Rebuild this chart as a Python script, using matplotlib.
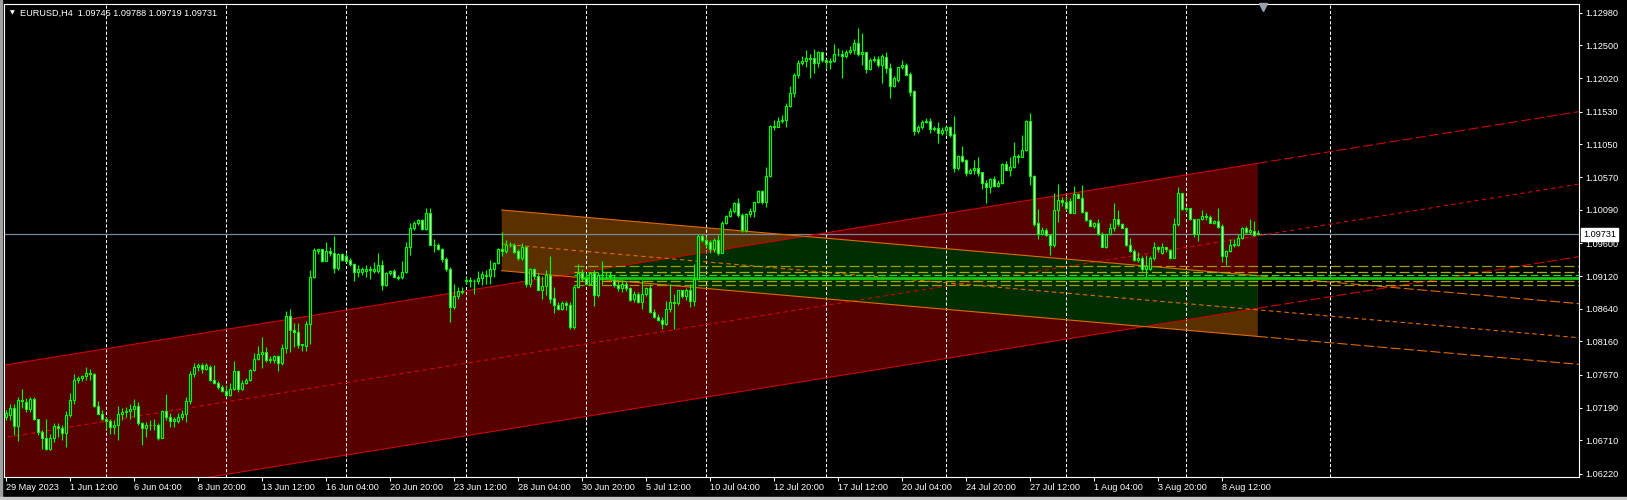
import numpy as np
import pandas as pd
import matplotlib
matplotlib.use("Agg")
import matplotlib.pyplot as plt
import matplotlib.transforms as mtransforms
from matplotlib.patches import Polygon, Rectangle
from matplotlib.collections import LineCollection

plt.rcParams['font.family'] = ['Liberation Sans', 'DejaVu Sans']

symbol = "EURUSD,H4"
first_bar = "2023-05-29 20:00"

# H4 candles
opens = [
    1.0706, 1.0708, 1.0719, 1.0692, 1.0730, 1.0727, 1.0717, 1.0731, 1.0702, 1.0683,
    1.0675, 1.0658, 1.0674, 1.0692, 1.0689, 1.0682, 1.0708, 1.0730, 1.0760, 1.0763,
    1.0765, 1.0770, 1.0769, 1.0722, 1.0710, 1.0703, 1.0700, 1.0691, 1.0693, 1.0709,
    1.0713, 1.0714, 1.0717, 1.0722, 1.0696, 1.0689, 1.0694, 1.0693, 1.0694, 1.0675,
    1.0714, 1.0705, 1.0699, 1.0699, 1.0705, 1.0710, 1.0729, 1.0768, 1.0778, 1.0782,
    1.0775, 1.0778, 1.0760, 1.0755, 1.0749, 1.0743, 1.0737, 1.0746, 1.0773, 1.0746,
    1.0755, 1.0759, 1.0774, 1.0791, 1.0798, 1.0801, 1.0789, 1.0789, 1.0794, 1.0784,
    1.0806, 1.0854, 1.0833, 1.0830, 1.0811, 1.0809, 1.0842, 1.0910, 1.0949, 1.0951,
    1.0934, 1.0948, 1.0945, 1.0924, 1.0944, 1.0941, 1.0935, 1.0930, 1.0918, 1.0918,
    1.0920, 1.0922, 1.0920, 1.0920, 1.0928, 1.0899, 1.0916, 1.0919, 1.0911, 1.0910,
    1.0918, 1.0954, 1.0983, 1.0990, 1.0994, 1.0981, 1.1004, 1.0958, 1.0958, 1.0951,
    1.0937, 1.0922, 1.0867, 1.0882, 1.0890, 1.0904, 1.0906, 1.0904, 1.0905, 1.0909,
    1.0912, 1.0912, 1.0922, 1.0931, 1.0951, 1.0948, 1.0958, 1.0957, 1.0948, 1.0938,
    1.0954, 1.0901, 1.0922, 1.0912, 1.0892, 1.0898, 1.0913, 1.0880, 1.0870, 1.0863,
    1.0872, 1.0869, 1.0837, 1.0896, 1.0916, 1.0909, 1.0901, 1.0917, 1.0884, 1.0913,
    1.0914, 1.0913, 1.0906, 1.0899, 1.0894, 1.0900, 1.0894, 1.0878, 1.0885, 1.0874,
    1.0886, 1.0894, 1.0859, 1.0852, 1.0848, 1.0841, 1.0863, 1.0874, 1.0873, 1.0891,
    1.0882, 1.0891, 1.0876, 1.0908, 1.0971, 1.0965, 1.0962, 1.0951, 1.0965, 1.0946,
    1.0989, 1.1000, 1.1007, 1.1019, 1.1001, 1.0979, 1.1003, 1.1008, 1.1020, 1.1036,
    1.1021, 1.1058, 1.1132, 1.1131, 1.1139, 1.1141, 1.1161, 1.1180, 1.1207, 1.1225,
    1.1227, 1.1232, 1.1231, 1.1225, 1.1240, 1.1228, 1.1226, 1.1227, 1.1238, 1.1237,
    1.1234, 1.1240, 1.1244, 1.1254, 1.1237, 1.1240, 1.1215, 1.1229, 1.1230, 1.1222,
    1.1233, 1.1217, 1.1190, 1.1200, 1.1218, 1.1221, 1.1208, 1.1183, 1.1124, 1.1131,
    1.1138, 1.1139, 1.1127, 1.1129, 1.1122, 1.1126, 1.1130, 1.1120, 1.1070, 1.1088,
    1.1082, 1.1063, 1.1067, 1.1070, 1.1064, 1.1048, 1.1042, 1.1054, 1.1044, 1.1049,
    1.1076, 1.1068, 1.1072, 1.1088, 1.1087, 1.1097, 1.1139, 1.1059, 1.0989, 1.0974,
    1.0979, 1.0972, 1.0957, 1.1009, 1.1024, 1.1021, 1.1022, 1.1005, 1.1032, 1.1027,
    1.1006, 1.0994, 1.0986, 1.0990, 1.0974, 1.0955, 1.0973, 1.0983, 1.0995, 1.0988,
    1.0983, 1.0958, 1.0949, 1.0935, 1.0939, 1.0922, 1.0922, 1.0938, 1.0954, 1.0946,
    1.0954, 1.0950, 1.0939, 1.0988, 1.1033, 1.1010, 1.1011, 1.0995, 1.0974, 1.0995,
    1.1000, 1.0999, 1.0990, 1.0992, 1.0985, 1.0941, 1.0949, 1.0957, 1.0958, 1.0968,
    1.0983, 1.0977, 1.0978, 1.09745,
]
highs = [
    1.0715, 1.0725, 1.0725, 1.0735, 1.0746, 1.0733, 1.0735, 1.0735, 1.0703, 1.0686,
    1.0703, 1.0681, 1.0696, 1.0696, 1.0693, 1.0714, 1.0740, 1.0769, 1.0765, 1.0767,
    1.0778, 1.0776, 1.0770, 1.0729, 1.0715, 1.0706, 1.0703, 1.0701, 1.0721, 1.0718,
    1.0720, 1.0725, 1.0731, 1.0727, 1.0698, 1.0698, 1.0701, 1.0703, 1.0696, 1.0715,
    1.0739, 1.0711, 1.0706, 1.0711, 1.0715, 1.0734, 1.0772, 1.0785, 1.0784, 1.0784,
    1.0784, 1.0781, 1.0782, 1.0758, 1.0752, 1.0752, 1.0755, 1.0788, 1.0774, 1.0759,
    1.0762, 1.0776, 1.0799, 1.0810, 1.0822, 1.0808, 1.0795, 1.0796, 1.0796, 1.0813,
    1.0860, 1.0864, 1.0843, 1.0843, 1.0813, 1.0846, 1.0921, 1.0953, 1.0951, 1.0952,
    1.0962, 1.0955, 1.0971, 1.0945, 1.0945, 1.0945, 1.0938, 1.0931, 1.0928, 1.0925,
    1.0928, 1.0926, 1.0933, 1.0945, 1.0935, 1.0918, 1.0921, 1.0922, 1.0913, 1.0934,
    1.0962, 1.0990, 1.0993, 1.0995, 1.0995, 1.1011, 1.1011, 1.0966, 1.0960, 1.0953,
    1.0940, 1.0925, 1.0901, 1.0896, 1.0896, 1.0910, 1.0910, 1.0907, 1.0920, 1.0920,
    1.0921, 1.0935, 1.0933, 1.0953, 1.0976, 1.0965, 1.0962, 1.0960, 1.0951, 1.0961,
    1.0955, 1.0923, 1.0923, 1.0916, 1.0912, 1.0921, 1.0941, 1.0896, 1.0874, 1.0875,
    1.0876, 1.0874, 1.0899, 1.0930, 1.0922, 1.0916, 1.0918, 1.0921, 1.0918, 1.0934,
    1.0918, 1.0918, 1.0913, 1.0906, 1.0906, 1.0905, 1.0896, 1.0890, 1.0889, 1.0906,
    1.0896, 1.0901, 1.0864, 1.0857, 1.0852, 1.0875, 1.0900, 1.0886, 1.0892, 1.0892,
    1.0895, 1.0901, 1.0930, 1.0973, 1.0973, 1.0970, 1.0965, 1.0967, 1.0972, 1.0993,
    1.1001, 1.1011, 1.1020, 1.1026, 1.1005, 1.1004, 1.1011, 1.1021, 1.1038, 1.1038,
    1.1072, 1.1133, 1.1141, 1.1145, 1.1148, 1.1165, 1.1190, 1.1209, 1.1229, 1.1234,
    1.1243, 1.1238, 1.1245, 1.1242, 1.1241, 1.1230, 1.1231, 1.1252, 1.1247, 1.1243,
    1.1243, 1.1249, 1.1259, 1.1275, 1.1269, 1.1241, 1.1232, 1.1234, 1.1234, 1.1237,
    1.1240, 1.1225, 1.1205, 1.1219, 1.1228, 1.1224, 1.1211, 1.1185, 1.1133, 1.1141,
    1.1143, 1.1143, 1.1132, 1.1138, 1.1131, 1.1132, 1.1132, 1.1147, 1.1089, 1.1103,
    1.1083, 1.1070, 1.1082, 1.1086, 1.1065, 1.1053, 1.1055, 1.1058, 1.1053, 1.1077,
    1.1080, 1.1087, 1.1109, 1.1091, 1.1118, 1.1141, 1.1151, 1.1060, 1.1010, 1.0984,
    1.0982, 1.0974, 1.1033, 1.1047, 1.1028, 1.1030, 1.1026, 1.1044, 1.1034, 1.1045,
    1.1008, 1.0995, 1.0991, 1.0995, 1.0976, 1.0974, 1.0989, 1.1019, 1.1009, 1.0990,
    1.0984, 1.0967, 1.0951, 1.0947, 1.0941, 1.0943, 1.0941, 1.0962, 1.0956, 1.0960,
    1.0955, 1.0951, 1.0997, 1.1042, 1.1034, 1.1013, 1.1011, 1.0996, 1.0996, 1.1009,
    1.1004, 1.1001, 1.0994, 1.1011, 1.0988, 1.0950, 1.0966, 1.0966, 1.0974, 1.0984,
    1.0986, 1.0995, 1.0992, 1.09788,
]
lows = [
    1.0701, 1.0701, 1.0679, 1.0670, 1.0718, 1.0713, 1.0713, 1.0701, 1.0679, 1.0658,
    1.0657, 1.0657, 1.0669, 1.0676, 1.0671, 1.0661, 1.0706, 1.0725, 1.0755, 1.0758,
    1.0760, 1.0759, 1.0720, 1.0709, 1.0701, 1.0688, 1.0680, 1.0680, 1.0672, 1.0701,
    1.0706, 1.0703, 1.0706, 1.0694, 1.0664, 1.0676, 1.0686, 1.0686, 1.0671, 1.0674,
    1.0701, 1.0690, 1.0691, 1.0696, 1.0701, 1.0698, 1.0725, 1.0764, 1.0772, 1.0770,
    1.0774, 1.0758, 1.0753, 1.0747, 1.0742, 1.0735, 1.0736, 1.0745, 1.0742, 1.0745,
    1.0753, 1.0758, 1.0772, 1.0789, 1.0777, 1.0786, 1.0784, 1.0784, 1.0772, 1.0782,
    1.0799, 1.0800, 1.0808, 1.0806, 1.0802, 1.0802, 1.0813, 1.0909, 1.0944, 1.0933,
    1.0934, 1.0941, 1.0917, 1.0921, 1.0934, 1.0933, 1.0926, 1.0905, 1.0910, 1.0913,
    1.0910, 1.0908, 1.0916, 1.0916, 1.0891, 1.0898, 1.0914, 1.0910, 1.0906, 1.0908,
    1.0916, 1.0943, 1.0979, 1.0987, 1.0979, 1.0980, 1.0957, 1.0947, 1.0950, 1.0933,
    1.0920, 1.0844, 1.0864, 1.0879, 1.0886, 1.0901, 1.0896, 1.0886, 1.0901, 1.0899,
    1.0900, 1.0901, 1.0911, 1.0930, 1.0941, 1.0945, 1.0954, 1.0945, 1.0935, 1.0936,
    1.0896, 1.0896, 1.0908, 1.0891, 1.0879, 1.0884, 1.0872, 1.0858, 1.0862, 1.0862,
    1.0862, 1.0835, 1.0835, 1.0894, 1.0904, 1.0899, 1.0899, 1.0868, 1.0881, 1.0901,
    1.0908, 1.0908, 1.0896, 1.0890, 1.0889, 1.0890, 1.0876, 1.0874, 1.0873, 1.0864,
    1.0882, 1.0858, 1.0851, 1.0846, 1.0834, 1.0840, 1.0859, 1.0834, 1.0870, 1.0880,
    1.0877, 1.0866, 1.0868, 1.0906, 1.0962, 1.0955, 1.0945, 1.0947, 1.0943, 1.0945,
    1.0988, 1.0998, 1.1004, 1.0999, 1.0977, 1.0977, 1.0999, 1.0999, 1.1019, 1.1018,
    1.1013, 1.1057, 1.1126, 1.1130, 1.1136, 1.1130, 1.1160, 1.1175, 1.1203, 1.1221,
    1.1219, 1.1202, 1.1210, 1.1219, 1.1226, 1.1216, 1.1215, 1.1226, 1.1234, 1.1203,
    1.1231, 1.1238, 1.1238, 1.1235, 1.1221, 1.1209, 1.1214, 1.1226, 1.1219, 1.1195,
    1.1209, 1.1173, 1.1189, 1.1197, 1.1216, 1.1206, 1.1176, 1.1118, 1.1121, 1.1128,
    1.1136, 1.1121, 1.1125, 1.1107, 1.1119, 1.1119, 1.1116, 1.1065, 1.1067, 1.1079,
    1.1058, 1.1062, 1.1062, 1.1058, 1.1040, 1.1019, 1.1034, 1.1043, 1.1043, 1.1047,
    1.1067, 1.1058, 1.1071, 1.1077, 1.1086, 1.1096, 1.1045, 1.0986, 1.0966, 1.0972,
    1.0970, 1.0943, 1.0955, 1.0991, 1.1014, 1.1009, 1.1004, 1.1004, 1.1026, 1.1005,
    1.0993, 1.0985, 1.0982, 1.0972, 1.0954, 1.0953, 1.0972, 1.0978, 1.0986, 1.0982,
    1.0956, 1.0947, 1.0934, 1.0933, 1.0920, 1.0910, 1.0921, 1.0935, 1.0947, 1.0944,
    1.0947, 1.0937, 1.0938, 1.0986, 1.1009, 1.1006, 1.0994, 1.0969, 1.0963, 1.0994,
    1.0994, 1.0989, 1.0988, 1.0982, 1.0932, 1.0928, 1.0947, 1.0954, 1.0956, 1.0966,
    1.0974, 1.0974, 1.0971, 1.09719,
]
closes = [
    1.0711, 1.0719, 1.0692, 1.0730, 1.0728, 1.0717, 1.0731, 1.0702, 1.0683, 1.0675,
    1.0658, 1.0674, 1.0692, 1.0689, 1.0682, 1.0708, 1.0730, 1.0760, 1.0763, 1.0765,
    1.0770, 1.0769, 1.0722, 1.0710, 1.0703, 1.0700, 1.0691, 1.0693, 1.0709, 1.0713,
    1.0714, 1.0717, 1.0722, 1.0696, 1.0689, 1.0694, 1.0693, 1.0694, 1.0675, 1.0714,
    1.0705, 1.0700, 1.0702, 1.0705, 1.0710, 1.0729, 1.0768, 1.0778, 1.0782, 1.0775,
    1.0782, 1.0760, 1.0755, 1.0749, 1.0743, 1.0737, 1.0747, 1.0773, 1.0746, 1.0755,
    1.0759, 1.0774, 1.0791, 1.0798, 1.0801, 1.0789, 1.0790, 1.0794, 1.0784, 1.0806,
    1.0854, 1.0833, 1.0830, 1.0811, 1.0812, 1.0842, 1.0910, 1.0950, 1.0951, 1.0934,
    1.0948, 1.0945, 1.0924, 1.0944, 1.0935, 1.0934, 1.0930, 1.0918, 1.0922, 1.0922,
    1.0922, 1.0921, 1.0922, 1.0928, 1.0899, 1.0916, 1.0919, 1.0911, 1.0909, 1.0918,
    1.0954, 1.0983, 1.0990, 1.0994, 1.0981, 1.1004, 1.0958, 1.0957, 1.0951, 1.0937,
    1.0922, 1.0867, 1.0882, 1.0890, 1.0889, 1.0906, 1.0904, 1.0905, 1.0909, 1.0915,
    1.0914, 1.0922, 1.0931, 1.0951, 1.0949, 1.0958, 1.0957, 1.0947, 1.0938, 1.0954,
    1.0901, 1.0922, 1.0912, 1.0892, 1.0898, 1.0913, 1.0878, 1.0870, 1.0863, 1.0872,
    1.0869, 1.0837, 1.0896, 1.0917, 1.0909, 1.0901, 1.0917, 1.0884, 1.0913, 1.0914,
    1.0913, 1.0912, 1.0899, 1.0894, 1.0900, 1.0894, 1.0877, 1.0886, 1.0874, 1.0886,
    1.0894, 1.0859, 1.0852, 1.0848, 1.0841, 1.0863, 1.0874, 1.0873, 1.0891, 1.0882,
    1.0891, 1.0876, 1.0908, 1.0971, 1.0965, 1.0959, 1.0951, 1.0965, 1.0946, 1.0989,
    1.1000, 1.1007, 1.1019, 1.1001, 1.0979, 1.1003, 1.1008, 1.1020, 1.1036, 1.1021,
    1.1058, 1.1132, 1.1131, 1.1139, 1.1141, 1.1161, 1.1180, 1.1207, 1.1225, 1.1227,
    1.1232, 1.1230, 1.1225, 1.1240, 1.1228, 1.1226, 1.1227, 1.1238, 1.1238, 1.1234,
    1.1240, 1.1244, 1.1254, 1.1237, 1.1241, 1.1215, 1.1229, 1.1230, 1.1222, 1.1234,
    1.1217, 1.1190, 1.1202, 1.1218, 1.1221, 1.1207, 1.1182, 1.1124, 1.1131, 1.1138,
    1.1139, 1.1127, 1.1129, 1.1122, 1.1126, 1.1130, 1.1119, 1.1070, 1.1088, 1.1081,
    1.1063, 1.1067, 1.1070, 1.1063, 1.1048, 1.1042, 1.1054, 1.1044, 1.1049, 1.1076,
    1.1068, 1.1072, 1.1088, 1.1087, 1.1097, 1.1139, 1.1059, 1.0988, 1.0974, 1.0979,
    1.0972, 1.0957, 1.1009, 1.1024, 1.1021, 1.1011, 1.1005, 1.1032, 1.1027, 1.1006,
    1.0994, 1.0986, 1.0990, 1.0974, 1.0955, 1.0973, 1.0983, 1.0995, 1.0988, 1.0983,
    1.0958, 1.0949, 1.0935, 1.0939, 1.0922, 1.0926, 1.0938, 1.0954, 1.0951, 1.0954,
    1.0951, 1.0939, 1.0988, 1.1033, 1.1010, 1.1011, 1.0995, 1.0974, 1.0995, 1.1000,
    1.0999, 1.0990, 1.0992, 1.0984, 1.0941, 1.0949, 1.0957, 1.0959, 1.0968, 1.0983,
    1.0977, 1.0980, 1.0972, 1.09731,
]

price_ticks = [1.12980, 1.12500, 1.12020, 1.11530, 1.11050, 1.10570, 1.10090,
               1.09600, 1.09120, 1.08640, 1.08160, 1.07670, 1.07190, 1.06710, 1.06220]
bid = 1.09731

# red regression channel: centre line at first / last bar, half width
red_mid = [1.06754, 1.09709]
red_half = 0.01063
# orange channel: first / last bar, top line, width, dotted line offset
orange_bars = [124, 313]
orange_top = [1.10088, 1.09124]
orange_width = 0.0089
orange_mid_off = 0.0050
# horizontal levels (start bar, price, colour, style, width)
levels = [
    (142, 1.0927, '#9c9c00', (0, (8, 3)), 0.9),
    (142, 1.0918, '#a8a800', (0, (8, 3)), 0.9),
    (142, 1.0914, '#3ccc3c', (0, (6, 3)), 0.9),
    (144, 1.0909, '#10c810', '-', 2.0),
    (142, 1.0905, '#a8a800', (0, (8, 3)), 0.9),
    (142, 1.0899, '#9c9c00', (0, (8, 3)), 0.9),
]

o = np.array(opens)
c = np.array(closes)
h = np.maximum(np.array(highs), np.maximum(o, c))
l = np.minimum(np.array(lows), np.minimum(o, c))
n = len(c)
x = np.arange(n)

# bar times: H4, weekdays only
t_all = pd.date_range(first_bar, periods=700, freq='4h')
times = t_all[t_all.dayofweek < 5][:n]

x_left, x_right = -0.42, 393.3
y_low, y_high = 1.06173, 1.13108

fig = plt.figure(figsize=(16.27, 5.0), dpi=100, facecolor='black')
ax = fig.add_axes([4 / 1627, 23 / 500, 1575 / 1627, 473 / 500])
ax.set_facecolor('black')
ax.set_xlim(x_left, x_right)
ax.set_ylim(y_low, y_high)

# window edge
fig.patches.append(Rectangle((0, 0), 2 / 1627, 1, transform=fig.transFigure,
                             color='#a0a0a0', zorder=0))
fig.patches.append(Rectangle((0, 0), 1, 3 / 500, transform=fig.transFigure,
                             color='#c8c8c8', zorder=0))


def line_at(xv, x0, y0, x1, y1):
    return y0 + (y1 - y0) * (np.asarray(xv, dtype=float) - x0) / (x1 - x0)


last = n - 1
# red channel
rx = np.array([x_left - 1, last])
r_up = line_at(rx, 0, red_mid[0] + red_half, last, red_mid[1] + red_half)
r_lo = line_at(rx, 0, red_mid[0] - red_half, last, red_mid[1] - red_half)
red_poly = Polygon([(rx[0], r_up[0]), (rx[1], r_up[1]), (rx[1], r_lo[1]), (rx[0], r_lo[0])],
                   closed=True, facecolor='#560000', edgecolor='none', zorder=0.5)
ax.add_patch(red_poly)

# orange channel
ox = np.array(orange_bars, dtype=float)
o_up = np.array(orange_top)
o_lo = o_up - orange_width
pts = [(ox[0], o_up[0]), (ox[1], o_up[1]), (ox[1], o_lo[1]), (ox[0], o_lo[0])]
ax.add_patch(Polygon(pts, closed=True, facecolor='#5a3000', edgecolor='none', zorder=0.6))
green = Polygon(pts, closed=True, facecolor='#002e00', edgecolor='none', zorder=0.7)
ax.add_patch(green)
green.set_clip_path(red_poly)

# week grid (Monday 00:00) plus the next one in the future
week = x[(times.dayofweek == 0) & (times.hour == 0)]
nxt = times[-1].normalize() + pd.Timedelta(days=(6 - times[-1].dayofweek) % 7 or 7)
future = last + (nxt - times[-1]) / pd.Timedelta(hours=4)
for gx in list(week) + [future]:
    ax.axvline(gx, color='white', lw=0.75, ls=(0, (3, 2)), zorder=1)

# bid line
ax.axhline(bid, color='#778899', lw=0.9, zorder=1.2)

red_c = '#d00000'
org_c = '#e06a00'
# red channel lines
ax.plot(rx, r_up, color=red_c, lw=0.8, zorder=2)
ax.plot(rx, r_lo, color=red_c, lw=0.8, zorder=2)
ex = np.array([last, x_right])
ax.plot(ex, line_at(ex, 0, red_mid[0] + red_half, last, red_mid[1] + red_half),
        color=red_c, lw=0.8, ls=(0, (9, 3)), zorder=2)
ax.plot(ex, line_at(ex, 0, red_mid[0] - red_half, last, red_mid[1] - red_half),
        color=red_c, lw=0.8, ls=(0, (9, 3)), zorder=2)
mx = np.array([x_left - 1, x_right])
ax.plot(mx, line_at(mx, 0, red_mid[0], last, red_mid[1]),
        color=red_c, lw=0.8, ls=(0, (4, 3)), zorder=2)

# orange channel lines
ax.plot(ox, o_up, color=org_c, lw=0.8, zorder=2)
ax.plot(ox, o_lo, color=org_c, lw=0.8, zorder=2)
oex = np.array([ox[1], x_right])
ax.plot(oex, line_at(oex, ox[0], o_up[0], ox[1], o_up[1]),
        color=org_c, lw=0.8, ls=(0, (9, 3)), zorder=2)
ax.plot(oex, line_at(oex, ox[0], o_lo[0], ox[1], o_lo[1]),
        color=org_c, lw=0.8, ls=(0, (9, 3)), zorder=2)
omx = np.array([ox[0], x_right])
ax.plot(omx, line_at(omx, ox[0], o_up[0] - orange_mid_off, ox[1], o_up[1] - orange_mid_off),
        color=org_c, lw=0.8, ls=(0, (4, 3)), zorder=2)

# horizontal levels
for x0, lv, col, ls, lw in levels:
    ax.plot([x0, x_right], [lv, lv], color=col, ls=ls, lw=lw, zorder=2.1)

# candles
wicks = LineCollection([[(xi, lo), (xi, hi)] for xi, lo, hi in zip(x, l, h)],
                       colors='#00ff00', linewidths=0.85, zorder=3)
ax.add_collection(wicks)
faces = np.where(c >= o, 'black', 'white')
ax.bar(x, np.maximum(np.abs(c - o), 0.00002), bottom=np.minimum(o, c), width=0.55,
       color=faces, edgecolor='#00ff00', linewidth=0.85, zorder=3.1)

# axes styling
for s in ax.spines.values():
    s.set_color('white')
    s.set_linewidth(0.8)
ax.yaxis.tick_right()
ax.set_yticks(price_ticks)
ax.set_yticklabels([f"{p:.5f}" for p in price_ticks])
ax.tick_params(axis='y', colors='white', length=2.5, width=0.75, labelsize=6.6, pad=2)

lab_idx = x[::16]
lab_txt = []
for i in lab_idx:
    t = times[i]
    lab_txt.append(f"{t.day} {t:%b %Y}" if i == 0 else f"{t.day} {t:%b %H:%M}")
ax.set_xticks(lab_idx)
ax.set_xticklabels(lab_txt)
ax.tick_params(axis='x', colors='white', length=3, width=0.75, labelsize=6.6, pad=1.5)
for lbl in ax.get_xticklabels():
    lbl.set_horizontalalignment('left')

# bid price box on the scale
trans = mtransforms.blended_transform_factory(ax.transAxes, ax.transData)
ax.text(1.0 + 4 / 1575, bid, f"{bid:.5f}", transform=trans, va='center', ha='left',
        fontsize=6.6, color='black', clip_on=False, zorder=5,
        bbox=dict(boxstyle='square,pad=0.2', fc='white', ec='white'))

# header
fig.text(12.5 / 1627, 1 - 13 / 500, "\u25bc", color='white', fontsize=4.5,
         va='center', ha='center', family=['DejaVu Sans'])
fig.text(20.5 / 1627, 1 - 13 / 500,
         f"{symbol}  {o[-1]:.5f} {h[-1]:.5f} {l[-1]:.5f} {c[-1]:.5f}",
         color='white', fontsize=6.6, va='center', ha='left')

# chart shift marker
ax.plot([n + 0.3], [1 - 3 / 473], marker='v', ms=6, color='#98a2ac',
        transform=mtransforms.blended_transform_factory(ax.transData, ax.transAxes),
        clip_on=False, zorder=6)

fig.savefig('out.png', dpi=100, facecolor='black')
